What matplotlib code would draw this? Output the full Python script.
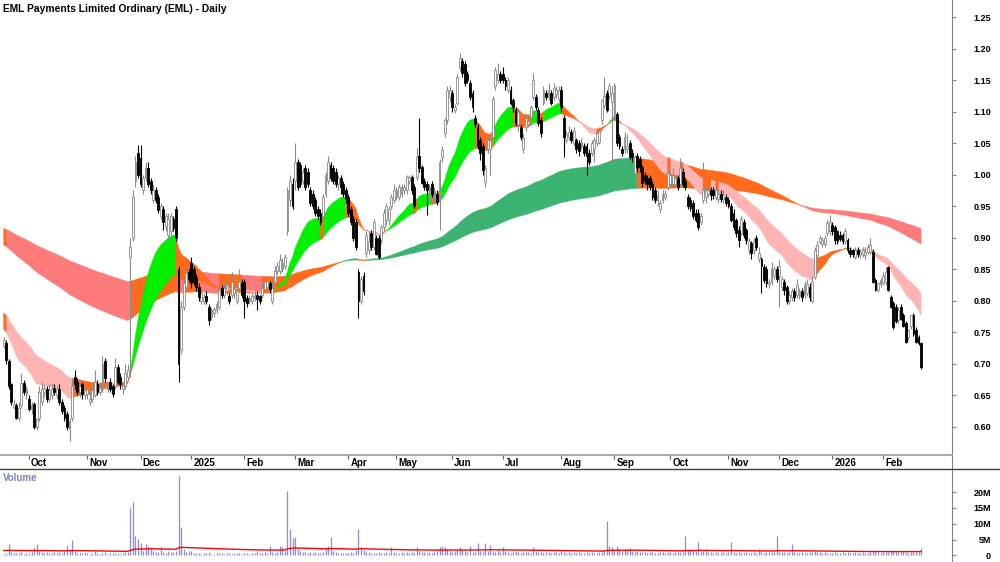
import numpy as np
import pandas as pd
import matplotlib
matplotlib.use('Agg')
import matplotlib.pyplot as plt
from matplotlib.lines import Line2D

plt.rcParams['font.family'] = ['Liberation Sans', 'DejaVu Sans']

title = "EML Payments Limited Ordinary (EML) - Daily"

holidays = ['2024-12-25', '2024-12-26', '2025-01-01', '2025-01-27', '2025-04-18',
            '2025-04-21', '2025-04-25', '2025-06-09', '2025-12-25', '2025-12-26',
            '2026-01-01', '2026-01-26']
first_day = '2024-09-17'
last_day = '2026-02-23'

opens = [
    .728, .733, .705, .668, .632, .635, .615, .635, .670, .652,
    .645, .628, .636, .600, .615, .640, .655, .660, .645, .650, .662, .650, .660, .640, .630, .620, .598, .615, .680, .672, .655, .668, .650,
    .652, .640, .645, .650, .668, .655, .660, .705, .660, .672, .665, .665, .695, .680, .660, .665, .680, .870, .900, .990, 1.035,
    1.027, .975, .995, 1.010, .990, .960, .975, .965, .935, .945, .918, .905, .910, .930, .945, .850, .722, .790, .822, .845,
    .860, .850, .838, .822, .800, .800, .808, .790, .775, .780, .785, .790, .820, .810, .815, .808, .810, .812, .800, .820, .828,
    .830, .805, .800, .800, .805, .810, .808, .810, .818, .822, .828, .800, .830, .848, .848, .850, .855, .910, .960, .985,
    .990, 1.020, 1.015, .990, 1.010, 1.005, .975, .970, .960, .945, .940, .935, .970, .990, 1.015, 1.010, 1.005, .985, .995, .985, .975,
    .965, .945, .930, .925, .845, .800, .840, .876, .880, .907, .885, .900, .900, .896, .917, .928, .928, .950, .960,
    .965, .965, .970, .975, .975, .990, .996, .980, .996, 1.030, 1.012, .990, .985, .960, .985, .960, .970, .960, 1.028, 1.066, 1.087, 1.123,
    1.130, 1.102, 1.114, 1.171, 1.180, 1.175, 1.160, 1.145, 1.130, 1.090, 1.075, 1.055, 1.045, .988, 1.040, 1.040, 1.060, 1.140, 1.150, 1.160,
    1.160, 1.150, 1.135, 1.134, 1.118, 1.103, 1.080, 1.075, 1.040, 1.075, 1.080, 1.092, 1.123, 1.123, 1.103, 1.087, 1.114, 1.130, 1.123, 1.130, 1.123, 1.128, 1.120,
    1.134, 1.090, 1.055, 1.060, 1.068, 1.050, 1.055, 1.050, 1.045, 1.045, 1.045, 1.034, 1.035, 1.040, 1.050, 1.052, 1.087, 1.110, 1.130, 1.125, 1.115,
    1.090, 1.097, 1.060, 1.040, 1.040, 1.040, 1.050, 1.035, 1.002, 1.030, 1.025, 1.012, 1.000, .995, .995, .985, .975, .960, .945, .960, .965, .980,
    .985, .985, .985, .995, .985, 1.005, .990, .965, .960, .955, .940, .940, .925, .960, .965, .970, .975, .975, .965, .962, .970, .962, .965,
    .960, .950, .940, .928, .912, .907, .925, .912, .880, .892, .880, .900, .866, .866, .854, .850, .826, .830, .840, .850,
    .840, .822, .830, .822, .800, .806, .815, .810, .808, .815, .810, .812, .822, .800, .838, .872, .893, .890, .890, .907, .910,
    .920, .917, .910, .905, .905, .895, .896, .880, .880, .870, .880, .872, .874, .872, .878, .878, .878, .833, .817, .826,
    .828, .830, .854, .806, .797, .790, .770, .790, .777, .765, .743, .760, .777, .754, .743, .733,
]
highs = [
    .743, .738, .708, .670, .645, .638, .640, .686, .675, .665,
    .650, .640, .640, .615, .665, .672, .668, .665, .668, .670, .668, .665, .668, .645, .635, .625, .615, .675, .690, .678, .670, .672, .668,
    .665, .655, .665, .690, .675, .668, .712, .710, .672, .678, .668, .710, .700, .685, .672, .700, .700, .900, .975, 1.030, 1.047,
    1.047, 1.000, 1.020, 1.020, .995, .985, .980, .970, .955, .950, .940, .940, .940, .935, .950, .855, .800, .835, .850, .850,
    .870, .855, .842, .828, .818, .812, .815, .795, .790, .790, .800, .820, .825, .830, .832, .812, .845, .825, .820, .850, .835,
    .835, .810, .810, .812, .815, .815, .810, .828, .840, .838, .832, .830, .855, .862, .875, .868, .875, .980, 1.000, .995,
    1.050, 1.025, 1.020, 1.010, 1.015, 1.010, .980, .975, .965, .950, .945, .970, 1.005, 1.030, 1.020, 1.015, 1.010, 1.000, 1.000, .990, .980,
    .970, .950, .935, .930, .850, .840, .845, .910, .910, .912, .930, .905, .905, .920, .945, .955, .950, .970, .985,
    .980, .985, .985, .985, 1.000, 1.000, 1.000, .985, 1.043, 1.090, 1.015, .995, .990, .985, .990, .980, .975, 1.025, 1.045, 1.090, 1.140, 1.140,
    1.135, 1.112, 1.160, 1.193, 1.185, 1.180, 1.165, 1.150, 1.135, 1.095, 1.080, 1.060, 1.050, 1.015, 1.060, 1.060, 1.125, 1.170, 1.177, 1.165,
    1.170, 1.155, 1.155, 1.140, 1.122, 1.108, 1.105, 1.080, 1.065, 1.095, 1.090, 1.110, 1.161, 1.128, 1.108, 1.092, 1.140, 1.135, 1.145, 1.135, 1.145, 1.140, 1.140,
    1.140, 1.095, 1.070, 1.078, 1.072, 1.075, 1.058, 1.055, 1.058, 1.050, 1.050, 1.040, 1.055, 1.060, 1.070, 1.075, 1.120, 1.155, 1.135, 1.145, 1.140,
    1.145, 1.100, 1.065, 1.045, 1.067, 1.065, 1.055, 1.040, 1.032, 1.035, 1.030, 1.015, 1.005, 1.000, 1.000, .990, .980, .975, .960, .975, .975, 1.008,
    1.005, 1.010, 1.000, 1.000, 1.026, 1.010, .995, .970, .965, .960, .945, .945, .940, 1.020, .980, .980, .980, .980, .980, .975, .975, .975, .970,
    .965, .955, .945, .932, .918, .935, .930, .915, .900, .895, .900, .905, .885, .870, .858, .855, .835, .862, .855, .855,
    .865, .840, .835, .825, .815, .820, .820, .835, .820, .820, .832, .835, .828, .840, .885, .895, .905, .902, .905, .928, .936,
    .925, .920, .912, .910, .908, .915, .900, .885, .883, .885, .885, .882, .885, .885, .890, .900, .882, .836, .830, .836,
    .845, .854, .856, .810, .800, .795, .790, .795, .780, .768, .756, .778, .780, .758, .746, .735,
]
lows = [
    .725, .700, .660, .635, .628, .612, .610, .630, .650, .645,
    .625, .620, .597, .595, .610, .635, .648, .640, .640, .645, .650, .645, .635, .620, .610, .595, .578, .610, .660, .650, .648, .645, .645,
    .645, .635, .640, .648, .650, .650, .655, .672, .655, .655, .648, .660, .668, .660, .652, .660, .675, .680, .895, .980, .995,
    .980, .970, .990, .980, .970, .955, .955, .940, .930, .912, .910, .896, .905, .910, .895, .672, .715, .785, .818, .830,
    .820, .825, .815, .800, .795, .795, .795, .762, .770, .775, .780, .785, .805, .805, .810, .795, .805, .805, .795, .815, .805,
    .773, .790, .795, .795, .800, .785, .795, .805, .812, .818, .812, .795, .825, .842, .842, .845, .850, .905, .950, .945,
    .975, .975, .980, .985, .975, .980, .950, .945, .935, .930, .920, .930, .965, .985, .990, .985, .980, .975, .970, .965, .955,
    .935, .920, .895, .880, .773, .795, .810, .870, .875, .880, .880, .872, .866, .890, .910, .920, .920, .945, .955,
    .960, .960, .965, .970, .970, .985, .970, .948, .992, 1.005, .985, .975, .936, .955, .965, .955, .952, .912, 1.020, 1.060, 1.080, 1.115,
    1.100, 1.098, 1.110, 1.165, 1.155, 1.140, 1.145, 1.118, 1.100, 1.075, 1.040, 1.023, 1.000, .980, 1.035, 1.000, 1.055, 1.135, 1.145, 1.145,
    1.145, 1.135, 1.130, 1.110, 1.100, 1.078, 1.070, 1.055, 1.034, 1.070, 1.075, 1.088, 1.118, 1.102, 1.078, 1.060, 1.110, 1.118, 1.118, 1.110, 1.118, 1.122, 1.115,
    1.100, 1.028, 1.050, 1.055, 1.050, 1.045, 1.035, 1.030, 1.040, 1.030, 1.000, 1.015, 1.030, 1.020, 1.045, 1.048, 1.080, 1.105, 1.100, 1.120, 1.018,
    1.085, 1.045, 1.040, 1.030, 1.035, 1.035, 1.025, 1.020, .979, 1.005, 1.005, .980, .985, .975, .975, .960, .955, .950, .940, .955, .960, .975,
    .980, .980, .980, .975, .980, .980, .975, .945, .942, .930, .925, .912, .920, .955, .955, .965, .960, .962, .960, .955, .957, .955, .950,
    .948, .925, .912, .902, .885, .905, .900, .890, .875, .866, .875, .880, .862, .812, .828, .822, .820, .825, .835, .830,
    .790, .815, .810, .795, .795, .800, .800, .805, .803, .800, .805, .808, .800, .797, .835, .868, .890, .885, .885, .903, .905,
    .905, .890, .890, .895, .890, .890, .876, .870, .870, .866, .870, .868, .870, .867, .874, .875, .828, .815, .814, .822,
    .825, .825, .815, .788, .755, .765, .765, .770, .758, .733, .738, .755, .745, .733, .730, .692,
]
closes = [
    .738, .706, .665, .640, .637, .615, .630, .670, .655, .660,
    .628, .635, .600, .612, .655, .660, .662, .645, .658, .660, .655, .660, .640, .625, .615, .600, .610, .665, .668, .655, .665, .652, .658,
    .660, .645, .658, .672, .655, .662, .700, .678, .668, .660, .652, .695, .672, .668, .665, .685, .690, .885, .965, 1.020, 1.000,
    .985, .995, 1.010, .985, .975, .975, .960, .944, .950, .925, .935, .930, .935, .915, .900, .700, .790, .828, .844, .835,
    .828, .830, .822, .806, .812, .806, .800, .770, .785, .787, .795, .817, .810, .820, .825, .800, .830, .818, .815, .830, .810,
    .800, .797, .805, .808, .810, .803, .800, .820, .830, .832, .818, .820, .848, .855, .865, .860, .870, .975, .990, .950,
    1.020, .980, .985, 1.005, .980, .985, .955, .950, .940, .935, .925, .965, 1.000, 1.020, .995, .990, .985, .995, .980, .970, .962,
    .940, .925, .900, .885, .800, .835, .815, .905, .895, .885, .925, .875, .870, .917, .940, .950, .945, .965, .976,
    .976, .980, .980, .980, .996, .996, .975, .950, 1.028, 1.010, .987, .980, .975, .980, .970, .975, .957, 1.020, 1.039, 1.087, 1.134, 1.134,
    1.107, 1.107, 1.155, 1.185, 1.161, 1.145, 1.150, 1.123, 1.107, 1.080, 1.045, 1.035, 1.008, 1.010, 1.055, 1.055, 1.120, 1.166, 1.160, 1.150,
    1.150, 1.140, 1.150, 1.114, 1.107, 1.082, 1.100, 1.060, 1.058, 1.090, 1.085, 1.107, 1.150, 1.107, 1.082, 1.066, 1.134, 1.123, 1.134, 1.114, 1.137, 1.134, 1.134,
    1.107, 1.060, 1.065, 1.068, 1.055, 1.070, 1.040, 1.038, 1.052, 1.035, 1.030, 1.020, 1.050, 1.055, 1.066, 1.070, 1.118, 1.125, 1.103, 1.140, 1.130,
    1.142, 1.050, 1.045, 1.035, 1.060, 1.045, 1.028, 1.028, 1.028, 1.010, 1.012, .987, .990, .985, .980, .965, .960, .968, .955, .970, .970, 1.002,
    1.000, 1.000, .995, .980, 1.010, .985, .980, .950, .948, .935, .928, .917, .935, .975, .975, .975, .968, .968, .975, .970, .962, .968, .955,
    .950, .928, .917, .907, .896, .930, .905, .896, .895, .876, .895, .885, .876, .855, .833, .828, .830, .852, .850, .835,
    .855, .835, .817, .800, .810, .815, .806, .825, .815, .806, .825, .827, .806, .830, .881, .888, .900, .897, .900, .923, .925,
    .910, .896, .895, .898, .895, .910, .881, .874, .875, .880, .874, .878, .880, .878, .885, .888, .830, .817, .828, .833,
    .840, .846, .817, .790, .758, .768, .785, .772, .760, .735, .754, .777, .748, .735, .733, .695,
]
volumes_m = [
    0.6, 0.9, 3.5, 1.0, 0.8, 0.7, 0.9, 1.1, 0.6, 0.8,
    0.7, 1.2, 2.7, 3.5, 1.5, 1.0, 0.9, 1.2, 0.8, 0.7, 1.0, 0.9, 1.1, 0.8, 1.3, 3.2, 1.9, 4.9, 1.4, 0.8, 0.9, 0.7, 1.0,
    0.9, 0.6, 0.8, 1.4, 0.7, 0.5, 0.9, 1.1, 0.6, 0.8, 0.7, 0.9, 0.8, 0.6, 0.7, 1.0, 1.2, 14.9, 16.8, 6.0, 5.2,
    3.8, 1.5, 3.5, 3.0, 2.6, 1.4, 1.0, 1.2, 2.8, 1.0, 0.9, 1.3, 1.1, 1.0, 1.4, 25.0, 8.9, 2.0, 1.2, 1.5,
    1.3, 0.9, 0.8, 0.7, 0.6, 0.9, 0.7, 1.0, 0.6, 0.5, 0.8, 0.7, 0.9, 0.6, 0.7, 0.8, 0.6, 0.9, 0.7, 0.8, 0.6,
    0.9, 0.7, 0.6, 0.8, 0.7, 1.3, 0.9, 0.8, 1.0, 0.9, 3.0, 1.1, 0.9, 1.2, 3.0, 2.8, 1.4, 20.4, 8.5, 5.4,
    5.9, 2.0, 1.5, 1.2, 1.0, 0.9, 1.1, 0.8, 1.0, 0.9, 0.7, 1.2, 2.5, 3.0, 5.7, 1.4, 1.0, 0.8, 0.9, 0.7, 0.8,
    0.9, 1.1, 0.8, 1.6, 8.5, 2.6, 1.6, 1.2, 1.0, 0.8, 0.9, 0.7, 1.0, 0.8, 0.9, 1.1, 0.7, 2.6, 1.0,
    0.9, 0.8, 1.0, 0.7, 1.1, 0.9, 1.0, 0.8, 2.8, 1.5, 1.2, 1.0, 0.9, 1.1, 0.8, 1.0, 1.3, 2.8, 2.9, 2.6, 2.2, 1.5,
    1.2, 1.4, 1.8, 2.7, 1.6, 1.3, 1.1, 3.0, 1.2, 1.0, 3.9, 1.4, 1.2, 3.9, 1.5, 3.4, 1.3, 1.1, 1.6, 1.2,
    2.8, 1.4, 1.2, 0.9, 1.0, 1.3, 1.1, 0.8, 1.2, 1.0, 1.1, 0.9, 2.8, 1.3, 1.0, 1.2, 0.9, 1.1, 1.0, 0.8, 1.2, 1.0, 0.9,
    1.3, 1.1, 0.9, 1.0, 0.8, 1.2, 0.9, 1.0, 0.8, 0.9, 1.1, 0.8, 1.0, 0.9, 0.7, 1.0, 1.2, 1.4, 11.0, 3.0, 2.8,
    1.8, 3.0, 2.0, 1.5, 2.0, 1.6, 2.5, 1.4, 1.2, 1.3, 1.1, 1.0, 1.2, 0.9, 1.0, 1.1, 0.9, 0.8, 1.0, 1.2, 0.9, 1.0,
    1.1, 0.9, 1.0, 1.2, 1.0, 1.1, 6.0, 1.8, 1.9, 1.7, 1.3, 4.4, 1.2, 1.5, 2.2, 1.1, 1.0, 0.9, 1.0, 0.8, 0.9, 1.0, 0.8,
    1.0, 4.4, 1.2, 0.9, 1.0, 0.8, 0.9, 1.1, 0.8, 0.9, 1.0, 0.8, 1.9, 1.0, 0.9, 1.1, 1.0, 1.2, 1.1, 6.0,
    1.2, 1.0, 1.1, 0.9, 1.2, 3.6, 1.0, 0.8, 0.9, 1.0, 0.8, 0.9, 1.1, 1.0, 1.3, 1.1, 1.0, 0.9, 1.0, 0.8, 0.9,
    0.9, 1.0, 0.8, 0.9, 1.0, 0.8, 1.1, 0.9, 0.8, 1.0, 0.9, 0.8, 1.0, 0.7, 0.9, 1.1, 1.0, 1.3, 1.0, 0.9,
    1.0, 1.1, 1.2, 1.4, 1.7, 1.2, 1.1, 1.0, 1.3, 1.1, 0.9, 1.0, 1.2, 1.0, 1.1, 2.5,
]

# ribbon settings: fast/slow EMA periods and their starting values read at the left edge
short_periods = [20, 40]
short_start = [0.755, 0.781]
long_periods = [135, 250]
long_start = [0.889, 0.915]
vol_ma_period = 100
vol_ma_start = 1.6

price_ticks = [0.60, 0.65, 0.70, 0.75, 0.80, 0.85, 0.90, 0.95, 1.00, 1.05, 1.10, 1.15, 1.20, 1.25]
vol_ticks = [0, 5, 10, 15, 20]
vol_tick_labels = ['0', '5M', '10M', '15M', '20M']

# ---------------------------------------------------------------
dates = pd.bdate_range(first_day, last_day)
dates = dates[~dates.isin(pd.to_datetime(holidays))]
O = np.array(opens); H = np.array(highs); L = np.array(lows); C = np.array(closes)
V = np.array(volumes_m)
n = min(len(dates), len(O), len(H), len(L), len(C), len(V))
O, H, L, C, V = O[:n], H[:n], L[:n], C[:n], V[:n]
dates = dates[:n]
x = np.arange(n)


def ema_group(price, periods, starts):
    out = np.zeros((len(periods), len(price)))
    for k, (p, s) in enumerate(zip(periods, starts)):
        a = 2.0 / (p + 1)
        e = s
        for i, c in enumerate(price):
            if i > 0:
                e = e + a * (c - e)
            out[k, i] = e
    return out


def band_state(g):
    d = g[:-1] - g[1:]
    slope = np.diff(g, axis=1, prepend=g[:, :1])
    rising = np.all(slope > 0, axis=0)
    falling = np.all(slope < 0, axis=0)
    up = np.all(d > 0, axis=0) & rising
    dn = np.all(d < 0, axis=0) & falling
    return np.where(up, 1, np.where(dn, -1, 0))


W, Hh = 1000, 562
fig = plt.figure(figsize=(W / 100, Hh / 100), dpi=100)
ax = fig.add_axes([0, 107 / Hh, 952 / W, 455 / Hh])
axs = fig.add_axes([0, 93 / Hh, 952 / W, 14 / Hh])
axv = fig.add_axes([0, 0, 952 / W, 92 / Hh])

xlim = (-1.44, 374.2)

ORANGE = '#ff6a1c'
sg = ema_group(C, short_periods, short_start)
lg = ema_group(C, long_periods, long_start)


def draw_band(g, cols, z):
    top = g.max(axis=0)
    bot = g.min(axis=0)
    st = band_state(g)
    for s, col in cols.items():
        m = st == s
        m2 = m.copy()
        m2[1:] |= m[:-1]
        ax.fill_between(x, bot, top, where=m2, color=col, lw=0.3, edgecolor=col, zorder=z)


draw_band(lg, {1: '#3cb371', -1: '#ff7a7a', 0: ORANGE}, 1)
draw_band(sg, {1: '#00f000', -1: '#ffb4b4', 0: ORANGE}, 2)

# candles
up = C >= O
UPC = '#8a8a8a'
ax.vlines(x[up], L[up], H[up], color=UPC, lw=0.8, zorder=3)
ax.vlines(x[~up], L[~up], H[~up], color='black', lw=0.8, zorder=3)
bh = np.maximum(np.abs(C - O), 0.002)
bb = np.minimum(O, C)
ax.bar(x[up], bh[up], bottom=bb[up], width=0.72, color='white', edgecolor=UPC, lw=0.6, zorder=4)
ax.bar(x[~up], bh[~up], bottom=bb[~up], width=0.72, color='black', edgecolor='black', lw=0.6, zorder=4)

ax.set_xlim(*xlim)
ax.set_ylim(0.5556, 1.277)
ax.set_xticks([])
ax.yaxis.tick_right()
ax.set_yticks(price_ticks)
ax.set_yticklabels(['%.2f' % t for t in price_ticks])
for sp in ['left', 'top']:
    ax.spines[sp].set_visible(False)
ax.spines['right'].set_color('#808080')
ax.spines['bottom'].set_color('#a8a8a8')
ax.spines['bottom'].set_linewidth(1.2)
ax.tick_params(axis='y', direction='out', length=3, width=0.8, color='#808080',
               labelsize=6.5, pad=25)
for lab in ax.get_yticklabels():
    lab.set_fontweight('bold')
    lab.set_horizontalalignment('right')

# date strip
axs.set_xlim(*xlim)
axs.set_ylim(0, 1)
axs.set_yticks([])
month_pos = []
month_lab = []
prev = dates[0].month
for i in range(1, n):
    if dates[i].month != prev:
        month_pos.append(i)
        month_lab.append(str(dates[i].year) if dates[i].month == 1 else dates[i].strftime('%b'))
    prev = dates[i].month
axs.set_xticks(month_pos)
axs.set_xticklabels([])
axs.xaxis.set_ticks_position('top')
axs.tick_params(axis='x', direction='in', length=3, width=0.8, color='#606060')
axs.spines['left'].set_visible(False)
axs.spines['top'].set_color('#a8a8a8')
axs.spines['top'].set_linewidth(1.2)
axs.spines['bottom'].set_visible(False)
axs.spines['right'].set_color('#808080')
axs.patch.set_alpha(0)
for p, l in zip(month_pos, month_lab):
    axs.text(p + 0.8, 0.42, l, fontsize=7, fontweight='bold', ha='left', va='center')

# volume
vma = np.zeros(n)
e = vol_ma_start
a = 2.0 / (vol_ma_period + 1)
for i in range(n):
    if i > 0:
        e = e + a * (V[i] - e)
    vma[i] = e
axv.vlines(x, 0, V, color='#8b8bdc', lw=0.9, zorder=2)
axv.plot(x, vma, color='#ff0000', lw=1.0, zorder=3)
axv.set_xlim(*xlim)
axv.set_ylim(-2.05, 26.93)
axv.set_xticks([])
axv.yaxis.tick_right()
axv.set_yticks(vol_ticks)
axv.set_yticklabels(vol_tick_labels)
for sp in ['left', 'top', 'bottom']:
    axv.spines[sp].set_visible(False)
axv.spines['right'].set_color('#808080')
axv.tick_params(axis='y', direction='out', length=3, width=0.8, color='#808080',
                labelsize=6.5, pad=25)
for lab in axv.get_yticklabels():
    lab.set_fontweight('bold')
    lab.set_horizontalalignment('right')
axv.text(3 / 952, 0.915, 'Volume', transform=axv.transAxes, fontsize=7, fontweight='bold',
         color='#8080c0', ha='left', va='center')

fig.add_artist(Line2D([0, 1], [93 / Hh, 93 / Hh], transform=fig.transFigure, color='#404040', lw=1.0))
fig.text(3 / W, 1 - 9 / Hh, title, fontsize=7.4, fontweight='bold', ha='left', va='center')

fig.savefig('out.png', dpi=100)
